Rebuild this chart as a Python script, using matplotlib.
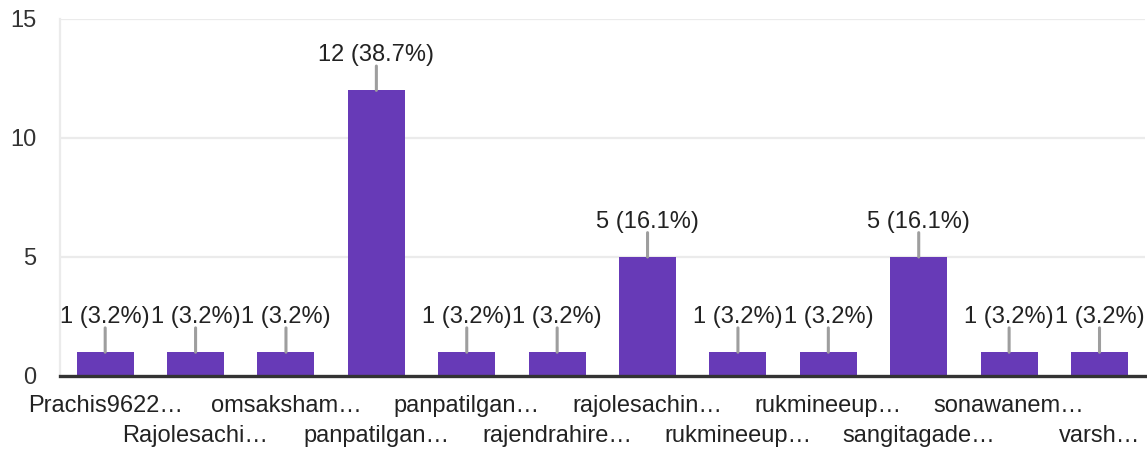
import matplotlib
matplotlib.use("Agg")
import matplotlib.pyplot as plt

# Responses per account
categories = [
    "Prachis9622…", "Rajolesachi…", "omsaksham…", "panpatilgan…",
    "panpatilgan…", "rajendrahire…", "rajolesachin…", "rukmineeup…",
    "rukmineeup…", "sangitagade…", "sonawanem…", "varsh…",
]
counts = [1, 1, 1, 12, 1, 1, 5, 1, 1, 5, 1, 1]
percent_labels = ["3.2%", "3.2%", "3.2%", "38.7%", "3.2%", "3.2%",
                  "16.1%", "3.2%", "3.2%", "16.1%", "3.2%", "3.2%"]
y_ticks = [0, 5, 10, 15]

BAR = "#673ab7"
TEXT = "#222222"
FS = 17
plt.rcParams["font.family"] = ["Liberation Sans", "DejaVu Sans"]

fig = plt.figure(figsize=(11.47, 4.51), dpi=100)
ax = fig.add_axes([0.0523, 0.1663, 0.9457, 0.7917])

x = list(range(len(counts)))
ax.bar(x, counts, width=0.63, color=BAR, zorder=3)

ax.set_xlim(-0.5, len(counts) - 0.5)
ax.set_ylim(0, 15)
ax.set_yticks(y_ticks)
ax.set_yticklabels([str(t) for t in y_ticks])
ax.tick_params(axis="y", length=0, pad=17, labelsize=FS, labelcolor="#333333")
ax.set_xticks([])

for t in y_ticks[1:]:
    ax.axhline(t, color="#ebebeb", lw=1.6, zorder=1)

for side in ["top", "right"]:
    ax.spines[side].set_visible(False)
ax.spines["left"].set_color("#ebebeb")
ax.spines["left"].set_linewidth(1.6)
ax.spines["bottom"].set_color("#333333")
ax.spines["bottom"].set_linewidth(2.4)
ax.spines["bottom"].set_zorder(4)

# Value labels with leader lines
for xi, c, p in zip(x, counts, percent_labels):
    ax.annotate("", xy=(xi, c), xytext=(0, 17.5), textcoords="offset points",
                arrowprops=dict(arrowstyle="-", color="#9e9e9e", lw=2.2,
                                shrinkA=0, shrinkB=0), zorder=4)
    ax.annotate(f"{c} ({p})", xy=(xi, c), xytext=(0, 17.5),
                textcoords="offset points", ha="center", va="bottom",
                fontsize=FS, color=TEXT, zorder=5)

# Category labels on two staggered rows
for i, name in enumerate(categories):
    row_y = -0.085 if i % 2 == 0 else -0.168
    ax.text(i, row_y, name, transform=ax.get_xaxis_transform(),
            ha="center", va="center", fontsize=FS, color=TEXT, clip_on=False)

fig.savefig("out.png", dpi=100)
